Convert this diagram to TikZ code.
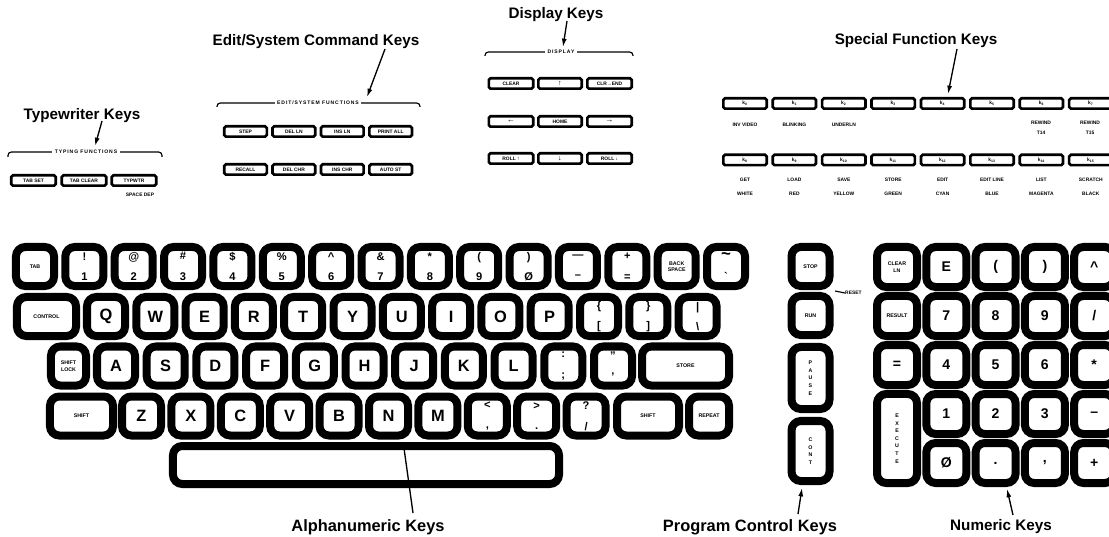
\documentclass[tikz,border=0pt]{standalone}
\usepackage{fontspec}
\setmainfont{Liberation Sans}
\newfontfamily\spacedfont[LetterSpace=18]{Liberation Sans}
\usetikzlibrary{arrows.meta}
\newcommand{\biglab}{\bfseries\fontsize{14}{16}\selectfont}
\newcommand{\duallab}{\bfseries\fontsize{9.5}{17.5}\selectfont}
\newcommand{\tinylab}{\bfseries\fontsize{4.5}{5.5}\selectfont}
\newcommand{\padlab}{\bfseries\fontsize{12}{14}\selectfont}
\newcommand{\stacklab}{\bfseries\fontsize{4.5}{6.5}\selectfont}
\tikzset{
    capkey/.style={draw, fill=white, line width=0.24cm, rounded corners=0.28cm,
        inner sep=0pt, align=center, minimum width=1.14cm, minimum height=1.17cm},
    padkey/.style={capkey, minimum width=1.2cm, minimum height=1.2cm},
    fkey/.style={draw, fill=white, line width=0.08cm, rounded corners=0.05cm,
        inner sep=0pt, minimum width=1.33cm, minimum height=0.31cm,
        font=\bfseries\fontsize{4.2}{5}\selectfont},
    keytitle/.style={font=\bfseries\fontsize{13}{15}\selectfont, inner sep=0pt},
    subtext/.style={font=\bfseries\fontsize{4.2}{8.5}\selectfont, inner sep=0pt, align=center},
    grouptext/.style={fill=white, inner xsep=0.08cm, inner ysep=0.03cm,
        font=\spacedfont\bfseries\fontsize{4.3}{5}\selectfont},
    groupline/.style={line width=0.035cm, rounded corners=0.1cm},
    callout/.style={-{Latex[length=0.25cm, width=0.15cm]}, line width=0.04cm}
}
\begin{document}
\begin{tikzpicture}[x=0.03cm, y=-0.03cm]
\useasboundingbox (0,0) rectangle (1109,537);
\clip (0,0) rectangle (1109,537);

% typing functions
\draw[groupline] (8,157) -- (8,152) -- (162,152) -- (162,157);
\node[grouptext] (tygrp) at (86,152) {TYPING FUNCTIONS};
\node[fkey] (tabset) at (33.5,180.5) {TAB SET};
\node[fkey] (tabclr) at (84,180.5) {TAB CLEAR};
\node[fkey] (typwtr) at (134,180.5) {TYPWTR};
\node[subtext] (spdep) at (140,195) {SPACE DEP};

% edit / system functions
\draw[groupline] (217,107) -- (217,103) -- (420,103) -- (420,107);
\node[grouptext] (edgrp) at (318,103) {EDIT/SYSTEM FUNCTIONS};
\foreach \s [count=\i from 0] in {STEP,DEL LN,INS LN,PRINT ALL}
    \node[fkey, minimum width=1.28cm] (eda\i) at ({245.5+48.4*\i},131.5) {\s};
\foreach \s [count=\i from 0] in {RECALL,DEL CHR,INS CHR,AUTO ST}
    \node[fkey, minimum width=1.28cm] (edb\i) at ({245.5+48.4*\i},169.5) {\s};

% display
\draw[groupline] (485,56) -- (485,52) -- (633,52) -- (633,56);
\node[grouptext] (dsgrp) at (561,52) {DISPLAY};
\node[fkey] (clear) at (511,83.5) {CLEAR};
\node[fkey, minimum width=1.30cm] (up) at (560,83.5) {\fontsize{6}{6}\selectfont↑};
\node[fkey] (clrend) at (609.5,83.5) {CLR→END};
\node[fkey] (left) at (511,121.5) {\fontsize{7}{7}\selectfont←};
\node[fkey, minimum width=1.30cm] (home) at (560,121.5) {HOME};
\node[fkey] (right) at (609.5,121.5) {\fontsize{7}{7}\selectfont→};
\node[fkey] (rollup) at (511,158.5) {ROLL ↑};
\node[fkey, minimum width=1.30cm] (down) at (560,158.5) {\fontsize{6}{6}\selectfont↓};
\node[fkey] (rolldn) at (609.5,158.5) {ROLL ↓};

% special function keys
\foreach \i in {0,...,7}
    \node[fkey, minimum width=1.30cm] (sf\i) at ({745+49.4*\i},103.5) {k\textsubscript{\i}};
\foreach \i in {8,...,15}
    \node[fkey, minimum width=1.30cm] (sf\i) at ({745+49.4*(\i-8)},160) {k\textsubscript{\i}};
\foreach \s [count=\i from 0] in {INV VIDEO,BLINKING,UNDERLN}
    \node[subtext] (sfa\i) at ({745+49.4*\i},125) {\s};
\node[subtext] (sfa6) at (1041,128) {REWIND\\T14};
\node[subtext] (sfa7) at (1090,128) {REWIND\\T15};
\foreach \s [count=\i from 0] in {GET,LOAD,SAVE,STORE,EDIT,EDIT LINE,LIST,SCRATCH}
    \node[subtext] (sfb\i) at ({745+49.4*\i},180) {\s};
\foreach \s [count=\i from 0] in {WHITE,RED,YELLOW,GREEN,CYAN,BLUE,MAGENTA,BLACK}
    \node[subtext] (sfc\i) at ({745+49.4*\i},194) {\s};

% alphanumeric keys
\node[capkey, font=\tinylab] (tab) at (35,266.5) {TAB};
\foreach \s [count=\i from 1] in {{!\\1},{@\\2},{\#\\3},{\$\\4},{\%\\5},
    {\textasciicircum\\6},{\&\\7},{*\\8},{{(}\\9},{{)}\\Ø},{—\\–},{+\\=}}
    \node[capkey, font=\duallab] (na\i) at ({35+49.36*\i},266.5) {\s};
\node[capkey, font=\tinylab] (bksp) at (676.7,266.5) {BACK\\SPACE};
\node[capkey, font=\duallab] (tilde) at (726,266.5) {{\Large\textasciitilde}\\\textasciigrave};

\node[capkey, minimum width=1.77cm, font=\tinylab] (control) at (46.5,316.5) {CONTROL};
\foreach \c [count=\i from 0] in {Q,W,E,R,T,Y,U,I,O,P}
    \node[capkey, font=\biglab] (nb\i) at ({106+49.3*\i},316.5) {\c};
\node[capkey, font=\duallab] (lbrace) at (599,316.5) {\{\\{[}};
\node[capkey, font=\duallab] (rbrace) at (648.3,316.5) {\}\\]};
\node[capkey, font=\duallab] (bslash) at (697.6,316.5) {|\\\textbackslash};

\node[capkey, minimum width=1.05cm, font=\tinylab] (shlock) at (68.5,366) {SHIFT\\LOCK};
\foreach \c [count=\i from 0] in {A,S,D,F,G,H,J,K,L}
    \node[capkey, font=\biglab] (nc\i) at ({116+49.7*\i},366) {\c};
\node[capkey, font=\duallab] (colon) at (563.3,366) {:\\;};
\node[capkey, font=\duallab] (quote) at (613,366) {"\\'};
\node[capkey, minimum width=2.61cm, font=\tinylab] (store) at (685.5,366) {STORE};

\node[capkey, minimum width=1.89cm, font=\tinylab] (lshift) at (81.5,416) {SHIFT};
\foreach \c [count=\i from 0] in {Z,X,C,V,B,N,M}
    \node[capkey, minimum width=1.17cm, font=\biglab] (nd\i) at ({141.5+49.4*\i},416) {\c};
\node[capkey, minimum width=1.17cm, font=\duallab] (less) at (487.3,416) {<\\,};
\node[capkey, minimum width=1.17cm, font=\duallab] (greater) at (536.7,416) {>\\.};
\node[capkey, minimum width=1.17cm, font=\duallab] (quest) at (586.1,416) {?\\/};
\node[capkey, minimum width=1.86cm, font=\tinylab] (rshift) at (648,416) {SHIFT};
\node[capkey, minimum width=1.2cm, font=\tinylab] (repeat) at (709,416) {REPEAT};
\node[capkey, minimum width=11.58cm, minimum height=1.14cm] (space) at (366,465) {};

% program control keys
\node[capkey, font=\tinylab] (stop) at (810.5,266.5) {STOP};
\node[capkey, font=\tinylab] (run) at (810.5,315.5) {RUN};
\node[capkey, minimum height=1.86cm, font=\stacklab] (pause) at (810.5,378) {P\\A\\U\\S\\E};
\node[capkey, minimum height=1.8cm, font=\stacklab] (cont) at (810.5,451) {C\\O\\N\\T};
\node[subtext, anchor=west] (reset) at (845,293) {RESET};
\coordinate (resetpt) at (835,291);
\draw[line width=0.035cm] (resetpt) -- (reset.west);

% numeric keys
\node[padkey, font=\tinylab] (clrln) at (897,267) {CLEAR\\LN};
\node[padkey, font=\tinylab] (result) at (897,316) {RESULT};
\node[padkey, font=\padlab] (equals) at (897,365) {=};
\node[padkey, minimum height=2.67cm, font=\stacklab] (exec) at (897,438.5) {E\\X\\E\\C\\U\\T\\E};
\foreach \c [count=\i from 1] in {E,{(},{)},\textasciicircum}
    \node[padkey, font=\padlab] (pa\i) at ({897+49.3*\i},267) {\c};
\foreach \c [count=\i from 1] in {7,8,9,/}
    \node[padkey, font=\padlab] (pb\i) at ({897+49.3*\i},316) {\c};
\foreach \c [count=\i from 1] in {4,5,6,*}
    \node[padkey, font=\padlab] (pc\i) at ({897+49.3*\i},365) {\c};
\foreach \c [count=\i from 1] in {1,2,3,–}
    \node[padkey, font=\padlab] (pd\i) at ({897+49.3*\i},414) {\c};
\foreach \c [count=\i from 1] in {Ø,.,{,},+}
    \node[padkey, font=\padlab] (pe\i) at ({897+49.3*\i},463) {\c};

% titles and arrows
\node[keytitle] (twtitle) at (82,116) {Typewriter Keys};
\node[keytitle] (edtitle) at (316,42) {Edit/System Command Keys};
\node[keytitle] (dstitle) at (556,15) {Display Keys};
\node[keytitle] (sftitle) at (916,41) {Special Function Keys};
\node[keytitle, font=\bfseries\fontsize{14}{16}\selectfont] (antitle) at (368,527) {Alphanumeric Keys};
\node[keytitle, font=\bfseries\fontsize{14}{16}\selectfont] (pctitle) at (750,527) {Program Control Keys};
\node[keytitle] (nmtitle) at (1001,527) {Numeric Keys};
\coordinate (twA) at (102,121); \coordinate (twB) at (95,146);
\coordinate (edA) at (385,49);  \coordinate (edB) at (367,97);
\coordinate (dsA) at (567,21);  \coordinate (dsB) at (563,47);
\coordinate (sfA) at (957,49);  \coordinate (sfB) at (948,94);
\coordinate (anA) at (413,513); \coordinate (anB) at (403,441);
\coordinate (pcA) at (798,514); \coordinate (pcB) at (802,488);
\coordinate (nmA) at (1013,515); \coordinate (nmB) at (1007,489);
\draw[callout] (twA) -- (twB);
\draw[callout] (edA) -- (edB);
\draw[callout] (dsA) -- (dsB);
\draw[callout] (sfA) -- (sfB);
\draw[callout] (anA) -- (anB);
\draw[callout] (pcA) -- (pcB);
\draw[callout] (nmA) -- (nmB);
\end{tikzpicture}
\end{document}
